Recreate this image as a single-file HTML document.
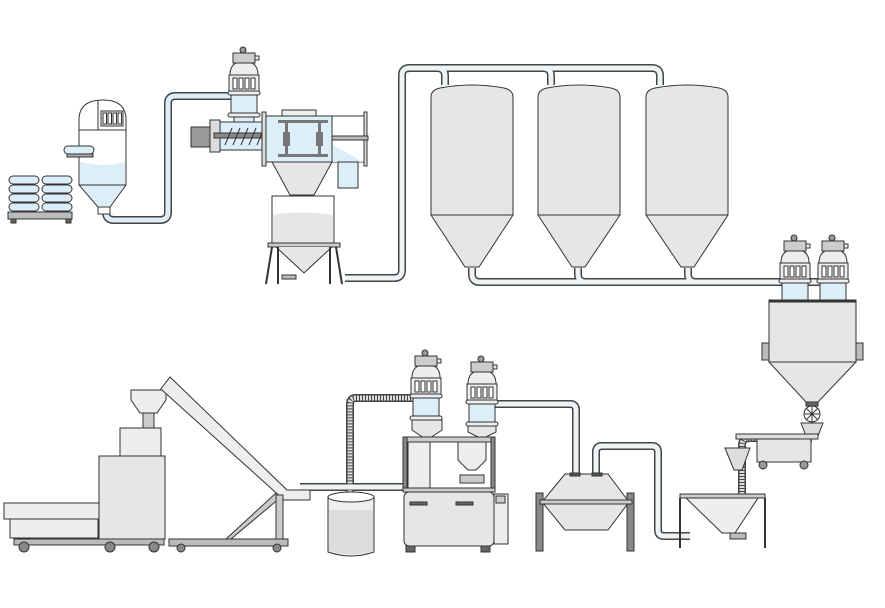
<!DOCTYPE html>
<html><head><meta charset="utf-8"><style>
html,body{margin:0;padding:0;background:#fff;}
svg{display:block;}
</style></head><body>
<svg width="885" height="608" viewBox="0 0 885 608" xmlns="http://www.w3.org/2000/svg">
<defs>
<g id="ld" stroke="#333" stroke-width="1">
  <circle cx="15" cy="5" r="3" fill="#999"/>
  <rect x="5" y="8" width="22" height="10" fill="#ccc"/>
  <rect x="27" y="11" width="4" height="4" fill="#eee"/>
  <path d="M2 30 Q2 21 8 18 L24 18 Q30 21 30 30 Z" fill="#eee"/>
  <rect x="1" y="30" width="30" height="16" fill="#eee"/>
  <rect x="5" y="33" width="4" height="11" fill="#fff"/>
  <rect x="11" y="33" width="4" height="11" fill="#fff"/>
  <rect x="17" y="33" width="4" height="11" fill="#fff"/>
  <rect x="23" y="33" width="4" height="11" fill="#fff"/>
  <rect x="0" y="46" width="32" height="4" rx="2" fill="#eee"/>
  <rect x="3" y="50" width="26" height="18" fill="#dceefa"/>
  <rect x="0" y="68" width="32" height="4" rx="2" fill="#eee"/>
</g>
</defs>
<g fill="none" stroke-linejoin="round" stroke-linecap="butt">
<!-- pipes: dark outline then light -->
<g stroke="#444" stroke-width="8">
 <path d="M106 212 Q106 220 114 220 L160 220 Q168 220 168 212 L168 103 Q168 96 176 96 L232 96"/>
 <path d="M345 278 L394 278 Q402 278 402 270 L402 75 Q402 68 410 68 L652 68 Q660 68 660 76 L660 85"/>
 <path d="M437 68 Q445 68 445 76 L445 85 M543 68 Q551 68 551 76 L551 85"/>
 <path d="M472 268 L472 274 Q472 282 480 282 L782 282 M578 268 L578 274 Q578 282 586 282 M688 268 L688 274 Q688 282 696 282 M806 282 L820 282"/>
 <path d="M416 398 L356 398 Q350 398 350 404 L350 498"/>
 <path d="M300 487 L410 487"/>
 <path d="M495 404 L570 404 Q576 404 576 410 L576 474"/>
 <path d="M596 474 L596 452 Q596 446 602 446 L652 446 Q658 446 658 452 L658 530 Q658 536 664 536 L690 536"/>
 <path d="M742 494 L742 445 Q742 438 750 438 L812 438"/>
</g>
<g stroke="#eef3f6" stroke-width="5">
 <path d="M106 212 Q106 220 114 220 L160 220 Q168 220 168 212 L168 103 Q168 96 176 96 L232 96" stroke="#dceefa"/>
 <path d="M345 278 L394 278 Q402 278 402 270 L402 75 Q402 68 410 68 L652 68 Q660 68 660 76 L660 86"/>
 <path d="M437 68 Q445 68 445 76 L445 86 M543 68 Q551 68 551 76 L551 86"/>
 <path d="M472 266 L472 274 Q472 282 480 282 L784 282 M578 266 L578 274 Q578 282 586 282 M688 266 L688 274 Q688 282 696 282 M804 282 L822 282"/>
 <path d="M416 398 L356 398 Q350 398 350 404 L350 498" stroke="#ddd" stroke-dasharray="2 1"/>
 <path d="M300 487 L410 487"/>
 <path d="M494 404 L570 404 Q576 404 576 410 L576 476"/>
 <path d="M596 476 L596 452 Q596 446 602 446 L652 446 Q658 446 658 452 L658 530 Q658 536 664 536 L690 536"/>
 <path d="M742 494 L742 445 Q742 438 750 438 L812 438" stroke="#ddd" stroke-dasharray="2 1"/>
</g>
</g>

<g stroke="#333" stroke-width="1">
<!-- bags pallet -->
<g fill="#dceefa">
 <rect x="9" y="176" width="30" height="8" rx="4"/><rect x="42" y="176" width="30" height="8" rx="4"/>
 <rect x="9" y="185" width="30" height="8" rx="4"/><rect x="42" y="185" width="30" height="8" rx="4"/>
 <rect x="9" y="194" width="30" height="8" rx="4"/><rect x="42" y="194" width="30" height="8" rx="4"/>
 <rect x="9" y="203" width="30" height="8" rx="4"/><rect x="42" y="203" width="30" height="8" rx="4"/>
</g>
<rect x="8" y="212" width="64" height="7" fill="#bbb"/>
<rect x="11" y="219" width="5" height="4" fill="#666"/><rect x="66" y="219" width="5" height="4" fill="#666"/>
<!-- bag tipping station -->
<path d="M79 185 L79 120 Q79 100 103 100 Q126 100 126 120 L126 185 L110 207 L98 207 Z" fill="#fff"/>
<path d="M80 162 Q103 168 125 162 L125 185 L110 206 L98 206 L80 185 Z" fill="#dceefa" stroke="none"/>
<path d="M79 185 L126 185" />
<rect x="98" y="207" width="12" height="7" fill="#fff"/>
<line x1="98" y1="100" x2="98" y2="130"/><line x1="79" y1="130" x2="126" y2="130"/>
<rect x="101" y="111" width="22" height="15" fill="#eee"/>
<g fill="#fff"><rect x="103" y="113" width="3.5" height="11"/><rect x="108" y="113" width="3.5" height="11"/><rect x="113" y="113" width="3.5" height="11"/><rect x="118" y="113" width="3.5" height="11"/></g>
<rect x="64" y="146" width="30" height="8" rx="4" fill="#dceefa"/>
<rect x="67" y="154" width="26" height="3" fill="#aaa"/>

<!-- top loader over sifter -->
<use href="#ld" x="228" y="45"/>
<rect x="234" y="117" width="20" height="8" fill="#dceefa"/>
<!-- screw housing -->
<rect x="210" y="122" width="60" height="28" fill="#dceefa"/>
<rect x="210" y="120" width="10" height="32" fill="#ddd"/>
<rect x="191" y="127" width="19" height="20" fill="#999"/>
<rect x="214" y="133" width="56" height="5" fill="#888"/>
<path d="M225 145 L232 128 M233 145 L240 128 M241 145 L248 128 M249 145 L256 128 M257 145 L264 128" />
<!-- sifter body -->
<rect x="266" y="116" width="66" height="46" fill="#dceefa"/>
<rect x="262" y="112" width="4" height="54" fill="#ddd"/>
<rect x="282" y="110" width="34" height="6" fill="#eee"/>
<g fill="#777" stroke="none"><rect x="278" y="120" width="50" height="3"/><rect x="278" y="154" width="50" height="3"/><rect x="285" y="123" width="3" height="31"/><rect x="318" y="123" width="3" height="31"/><rect x="283" y="132" width="7" height="14"/><rect x="316" y="132" width="7" height="14"/></g>
<rect x="332" y="116" width="32" height="46" fill="#fff"/>
<path d="M333 145 L363 162 L333 162 Z" fill="#dceefa" stroke="none"/>
<rect x="364" y="112" width="3" height="54" fill="#ddd"/>
<rect x="332" y="136" width="36" height="4" fill="#bbb"/>
<rect x="338" y="162" width="20" height="26" fill="#dceefa"/>
<path d="M272 162 L332 162 L314 195 L290 195 Z" fill="#e6e6e6"/>
<!-- bin on stand -->
<rect x="272" y="196" width="62" height="48" fill="#fff"/>
<path d="M273 215 Q303 210 333 215 L333 243 L273 243 Z" fill="#e6e6e6" stroke="none"/>
<rect x="268" y="243" width="72" height="4" fill="#ccc"/>
<path d="M276 247 L304 273 L332 247" fill="#e6e6e6"/>
<path d="M272 247 L266 284 M336 247 L342 284 M278 247 L278 284 M330 247 L330 284" stroke-width="2"/>
<rect x="282" y="275" width="14" height="4" fill="#bbb"/>

<!-- silos -->
<g fill="#e6e6e6">
 <path d="M431 215 L431 97 Q431 90 440 88 Q472 82 504 88 Q513 90 513 97 L513 215 L479 267 L465 267 Z"/>
 <path d="M538 215 L538 97 Q538 90 547 88 Q579 82 611 88 Q620 90 620 97 L620 215 L585 267 L572 267 Z"/>
 <path d="M646 215 L646 97 Q646 90 655 88 Q687 82 719 88 Q728 90 728 97 L728 215 L694 267 L681 267 Z"/>
</g>
<line x1="431" y1="215" x2="513" y2="215"/><line x1="538" y1="215" x2="620" y2="215"/><line x1="646" y1="215" x2="728" y2="215"/>

<!-- right top loaders & hopper -->
<use href="#ld" x="779" y="233"/>
<use href="#ld" x="817" y="233"/>
<rect x="769" y="300" width="87" height="62" fill="#e6e6e6"/>
<line x1="769" y1="301" x2="856" y2="301" stroke-width="3"/>
<rect x="762" y="343" width="7" height="17" fill="#bbb"/><rect x="856" y="343" width="7" height="17" fill="#bbb"/>
<path d="M769 362 L856 362 L818 402 L806 402 Z" fill="#e6e6e6"/>
<rect x="806" y="402" width="12" height="4" fill="#666"/>
<circle cx="812" cy="414" r="8" fill="#fff"/>
<path d="M804 414 L820 414 M812 406 L812 422 M806 408 L818 420 M818 408 L806 420"/>
<path d="M801 423 L823 423 L818 436 L806 436 Z" fill="#ddd"/>
<rect x="736" y="434" width="82" height="5" fill="#ddd"/>
<rect x="757" y="439" width="54" height="23" fill="#e6e6e6"/>
<circle cx="763" cy="465" r="4" fill="#999"/><circle cx="804" cy="465" r="4" fill="#999"/>
<path d="M725 448 L750 448 L742 470 L734 470 Z" fill="#ddd"/>

<!-- bottom-right hopper on stand -->
<rect x="680" y="494" width="85" height="4" fill="#ccc"/>
<path d="M686 498 L758 498 L735 533 L722 533 Z" fill="#eee"/>
<path d="M680 498 L680 548 M765 498 L765 548" stroke-width="2"/>
<rect x="730" y="533" width="16" height="6" fill="#bbb"/>

<!-- mixer -->
<rect x="536" y="493" width="7" height="58" fill="#888"/>
<rect x="627" y="493" width="7" height="58" fill="#888"/>
<path d="M565 474 L608 474 L629 502 L608 530 L565 530 L542 502 Z" fill="#e6e6e6"/>
<rect x="540" y="500" width="92" height="4" fill="#ccc"/>
<rect x="570" y="473" width="10" height="3" fill="#555"/><rect x="592" y="473" width="10" height="3" fill="#555"/>

<!-- two loaders on frame -->
<use href="#ld" x="410" y="348"/>
<use href="#ld" x="466" y="354"/>
<path d="M412 420 L442 420 L442 430 L430 438 L424 438 L412 430 Z" fill="#e6e6e6"/>
<path d="M468 426 L496 426 L496 432 L484 438 L480 438 L468 432 Z" fill="#e6e6e6"/>
<rect x="403" y="437" width="92" height="5" fill="#ccc"/>
<rect x="403" y="437" width="4" height="55" fill="#888"/><rect x="491" y="437" width="4" height="55" fill="#888"/>
<path d="M408 442 L430 442 L430 488 L408 488 Z" fill="#eee"/>
<path d="M458 442 L486 442 L486 460 L476 470 L468 470 L458 460 Z" fill="#eee"/>
<rect x="460" y="475" width="24" height="8" fill="#ccc"/>
<rect x="403" y="488" width="92" height="4" fill="#ccc"/>
<rect x="404" y="492" width="90" height="54" rx="5" fill="#e6e6e6"/>
<rect x="494" y="494" width="14" height="50" fill="#eee"/>
<rect x="496" y="496" width="9" height="7" fill="#ccc"/>
<rect x="410" y="502" width="17" height="3" fill="#666"/><rect x="456" y="502" width="17" height="3" fill="#666"/>
<rect x="406" y="546" width="9" height="6" fill="#666"/><rect x="481" y="546" width="9" height="6" fill="#666"/>
<!-- drum -->
<path d="M328 497 L328 552 Q351 560 374 552 L374 497 Z" fill="#eee"/>
<ellipse cx="351" cy="497" rx="23" ry="5" fill="#fff"/>
<path d="M329 510 L373 510 L373 551 Q351 558 329 551 Z" fill="#ddd" stroke="none"/>

<!-- extruder -->
<rect x="4" y="503" width="96" height="16" fill="#eee"/>
<rect x="10" y="519" width="88" height="19" fill="#eee"/>
<rect x="99" y="456" width="66" height="83" fill="#e6e6e6"/>
<rect x="120" y="428" width="41" height="28" fill="#eee"/>
<rect x="143" y="413" width="11" height="15" fill="#ccc"/>
<path d="M131 390 L166 390 L166 400 L157 413 L140 413 L131 400 Z" fill="#eee"/>
<rect x="14" y="539" width="150" height="6" fill="#bbb"/>
<circle cx="24" cy="547" r="5" fill="#888"/><circle cx="110" cy="547" r="5" fill="#888"/><circle cx="154" cy="547" r="5" fill="#888"/>
<!-- conveyor -->
<path d="M160 390 L170 377 L287 490 L310 490 L310 500 L284 500 L162 390 Z" fill="#eee"/>
<rect x="169" y="539" width="119" height="7" fill="#bbb"/>
<circle cx="181" cy="548" r="4" fill="#888"/><circle cx="277" cy="548" r="4" fill="#888"/>
<path d="M226 539 L276 493 L281 497 L231 539 Z" fill="#ccc"/>
<rect x="276" y="495" width="7" height="44" fill="#ccc"/>
</g>
</svg>
</body></html>
